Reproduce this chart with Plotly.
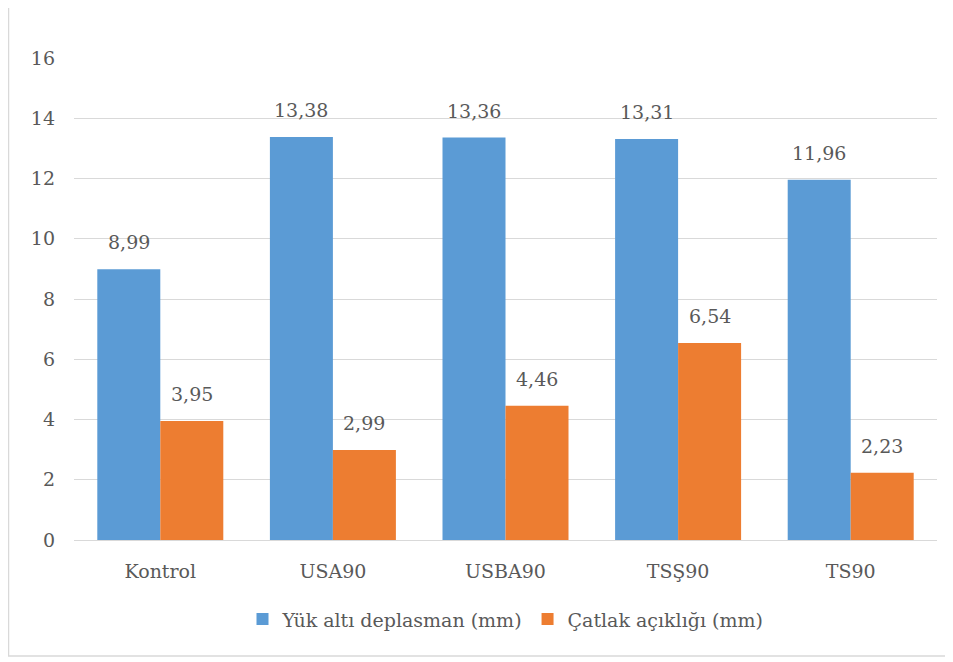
import plotly.graph_objects as go

categories = ["Kontrol", "USA90", "USBA90", "TSŞ90", "TS90"]
deplasman = [8.99, 13.38, 13.36, 13.31, 11.96]
catlak = [3.95, 2.99, 4.46, 6.54, 2.23]
series_names = ["Yük altı deplasman (mm)", "Çatlak açıklığı (mm)"]
colors = ["#5B9BD5", "#ED7D31"]
y_ticks = [0, 2, 4, 6, 8, 10, 12, 14, 16]

FONT = "DejaVu Serif"
FS = 19
TXT = "#595959"

fig = go.Figure()
for name, vals, c in zip(series_names, [deplasman, catlak], colors):
    fig.add_trace(go.Bar(x=categories, y=vals, name=name, marker_color=c,
                         marker_line_width=0))

annotations = []
for vals, xs in [(deplasman, -31.5), (catlak, 31.5)]:
    for cat, v in zip(categories, vals):
        annotations.append(dict(x=cat, y=v, text=f"{v:.2f}".replace(".", ","),
                                showarrow=False, xshift=xs, yshift=14,
                                yanchor="bottom",
                                font=dict(family=FONT, size=FS, color=TXT)))

fig.update_layout(
    width=953, height=662,
    margin=dict(l=66, r=24, t=50, b=130),
    paper_bgcolor="white", plot_bgcolor="white",
    barmode="group", bargap=0.27, bargroupgap=0,
    font=dict(family=FONT, size=FS, color=TXT),
    showlegend=True,
    legend=dict(orientation="h", x=0.5, xanchor="center", y=-0.125, yanchor="top",
                font=dict(family=FONT, size=FS, color=TXT), itemwidth=30,
                traceorder="normal"),
    annotations=annotations,
    shapes=[dict(type="rect", xref="paper", yref="paper",
                 x0=-0.0759, x1=1.0255, y0=-0.2407, y1=1.13,
                 line=dict(color="#D9D9D9", width=1.5), fillcolor="rgba(0,0,0,0)",
                 layer="below")],
)
fig.update_xaxes(showgrid=False, showline=True, linecolor="#D9D9D9", linewidth=1,
                 ticks="", ticklabelstandoff=14,
                 tickfont=dict(family=FONT, size=FS, color=TXT))
fig.update_yaxes(range=[0, 16], tickvals=y_ticks, showgrid=True, gridcolor="#D9D9D9",
                 gridwidth=1, zeroline=False, showline=False, ticks="",
                 ticklabelstandoff=18,
                 tickfont=dict(family=FONT, size=FS, color=TXT))

fig.write_html("out.html")
